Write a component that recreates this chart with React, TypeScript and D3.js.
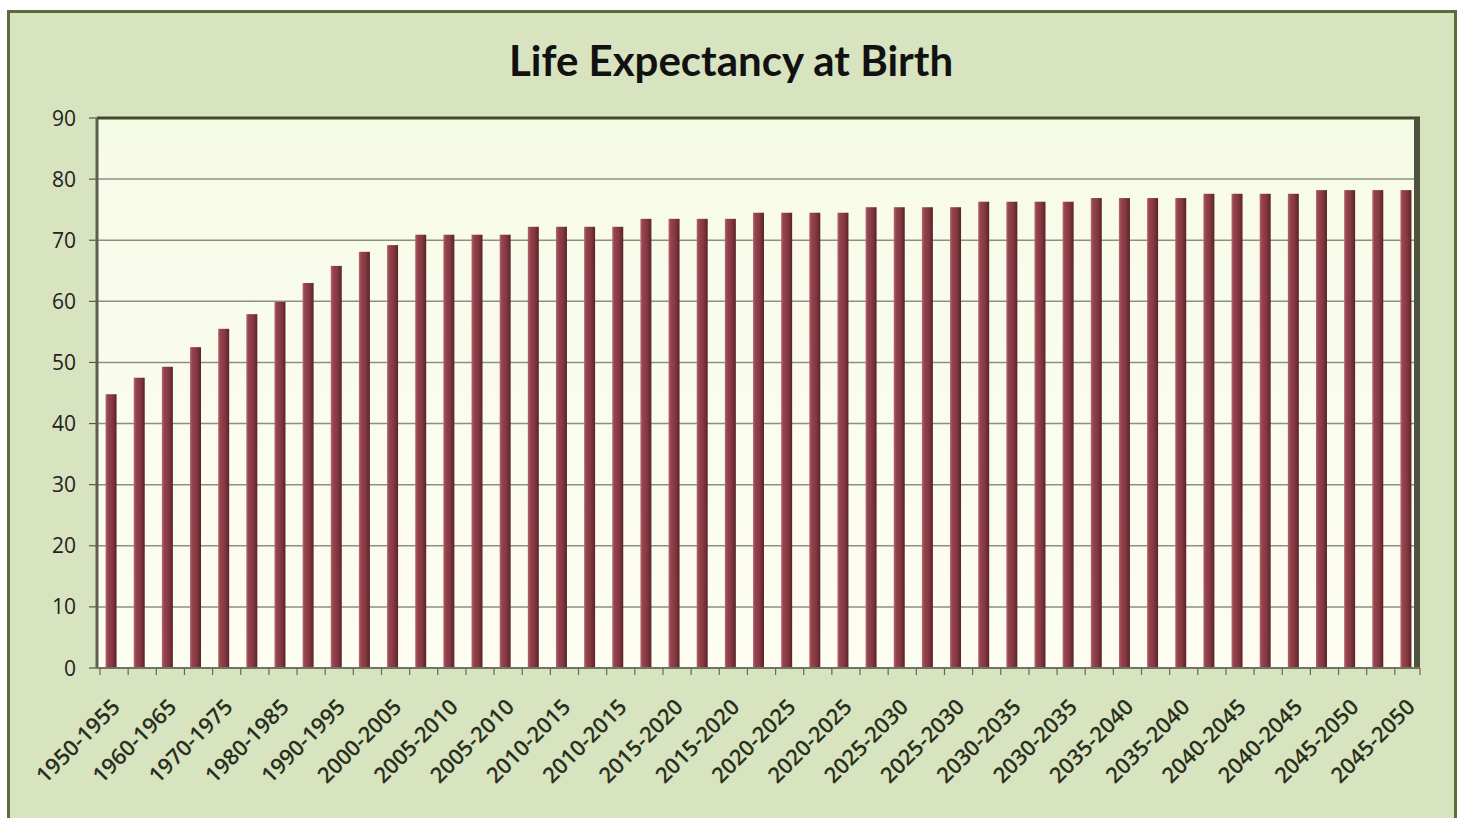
import React from "react";
import * as d3 from "d3";

const periods: string[] = [
  "1950-1955", "1955-1960", "1960-1965", "1965-1970", "1970-1975", "1975-1980",
  "1980-1985", "1985-1990", "1990-1995", "1995-2000", "2000-2005",
  "2005-2010", "2005-2010", "2005-2010", "2005-2010",
  "2010-2015", "2010-2015", "2010-2015", "2010-2015",
  "2015-2020", "2015-2020", "2015-2020", "2015-2020",
  "2020-2025", "2020-2025", "2020-2025", "2020-2025",
  "2025-2030", "2025-2030", "2025-2030", "2025-2030",
  "2030-2035", "2030-2035", "2030-2035", "2030-2035",
  "2035-2040", "2035-2040", "2035-2040", "2035-2040",
  "2040-2045", "2040-2045", "2040-2045", "2040-2045",
  "2045-2050", "2045-2050", "2045-2050", "2045-2050",
];

const lifeExpectancy: number[] = [
  44.8, 47.5, 49.3, 52.5, 55.5, 57.9, 59.9, 63.0, 65.8, 68.1, 69.2,
  70.9, 70.9, 70.9, 70.9,
  72.2, 72.2, 72.2, 72.2,
  73.5, 73.5, 73.5, 73.5,
  74.5, 74.5, 74.5, 74.5,
  75.4, 75.4, 75.4, 75.4,
  76.3, 76.3, 76.3, 76.3,
  76.9, 76.9, 76.9, 76.9,
  77.6, 77.6, 77.6, 77.6,
  78.2, 78.2, 78.2, 78.2,
];

const yTicks: number[] = [0, 10, 20, 30, 40, 50, 60, 70, 80, 90];
const title = "Life Expectancy at Birth";

const W = 1478;
const H = 818;
const plot = { left: 97, right: 1420, top: 118, bottom: 668 };

export default function App() {
  const keys = periods.map((_, i) => String(i));
  const x = d3
    .scaleBand<string>()
    .domain(keys)
    .range([plot.left, plot.right])
    .paddingInner(0)
    .paddingOuter(0);
  const y = d3.scaleLinear().domain([0, 90]).range([plot.bottom, plot.top]);
  const bw = 11;
  const font = "'Open Sans', 'DejaVu Sans', sans-serif";

  return (
    <svg
      width={W}
      height={H}
      style={{ position: "absolute", left: 0, top: 0, display: "block" }}
      fontFamily={font}
    >
      <defs>
        <linearGradient id="barGrad" x1="0" x2="1" y1="0" y2="0">
          <stop offset="0" stopColor="#b86a72" />
          <stop offset="0.2" stopColor="#96434c" />
          <stop offset="0.6" stopColor="#843841" />
          <stop offset="1" stopColor="#5a2328" />
        </linearGradient>
        <linearGradient id="plotGrad" x1="0" x2="0" y1="0" y2="1">
          <stop offset="0" stopColor="#f6fbe6" />
          <stop offset="1" stopColor="#fdfdf2" />
        </linearGradient>
      </defs>
      <rect x={0} y={0} width={W} height={H} fill="#ffffff" />
      <rect
        x={8.5}
        y={11.5}
        width={1447}
        height={H + 20}
        fill="#d8e3bf"
        stroke="#5e6c3a"
        strokeWidth={3}
      />
      <text
        x={731}
        y={76}
        textAnchor="middle"
        fontSize={42}
        fontWeight={700}
        fill="#111"
        fontFamily="Lato, 'Open Sans', sans-serif"
      >
        {title}
      </text>
      <rect
        x={plot.left}
        y={plot.top}
        width={plot.right - plot.left}
        height={plot.bottom - plot.top}
        fill="url(#plotGrad)"
      />
      {yTicks.map((t) => (
        <g key={"g" + t}>
          {t > 0 && t < 90 && (
            <line
              x1={plot.left}
              x2={plot.right - 6}
              y1={y(t)}
              y2={y(t)}
              stroke="#8c8f84"
              strokeWidth={1.5}
            />
          )}
          <line
            x1={plot.left - 8}
            x2={plot.left}
            y1={y(t)}
            y2={y(t)}
            stroke="#555"
            strokeWidth={1.2}
          />
          <text
            x={plot.left - 21}
            y={y(t)}
            dy="0.36em"
            textAnchor="end"
            fontSize={21}
            fill="#222"
          >
            {t}
          </text>
        </g>
      ))}
      {lifeExpectancy.map((v, i) => {
        const cx = (x(String(i)) as number) + x.bandwidth() / 2;
        return (
          <rect
            key={"b" + i}
            x={cx - bw / 2}
            y={y(v)}
            width={bw}
            height={plot.bottom - y(v)}
            fill="url(#barGrad)"
          />
        );
      })}
      <line
        x1={plot.left}
        x2={plot.right}
        y1={plot.top}
        y2={plot.top}
        stroke="#3f4a2a"
        strokeWidth={3}
      />
      <rect
        x={plot.right - 6}
        y={plot.top}
        width={6}
        height={plot.bottom - plot.top}
        fill="#4c5440"
      />
      <line
        x1={plot.left}
        x2={plot.left}
        y1={plot.top}
        y2={plot.bottom}
        stroke="#5a5f50"
        strokeWidth={3}
      />
      <line
        x1={plot.left}
        x2={plot.right}
        y1={plot.bottom}
        y2={plot.bottom}
        stroke="#6f7466"
        strokeWidth={2}
      />
      {keys.map((k) => (
        <line
          key={"t" + k}
          x1={(x(k) as number) + 3}
          x2={(x(k) as number) + 3}
          y1={plot.bottom}
          y2={plot.bottom + 7}
          stroke="#666"
          strokeWidth={1.2}
        />
      ))}
      <line
        x1={plot.right}
        x2={plot.right}
        y1={plot.bottom}
        y2={plot.bottom + 7}
        stroke="#666"
        strokeWidth={1.2}
      />
      {periods.map((p, i) => {
        if (i % 2 !== 0) return null;
        const cx = (x(String(i)) as number) + x.bandwidth() / 2;
        const tx = cx + 5;
        const ty = plot.bottom + 35;
        return (
          <text
            key={"l" + i}
            transform={`translate(${tx},${ty}) rotate(-45)`}
            textAnchor="end"
            dy="0.35em"
            fontSize={22}
            fontWeight={600}
            fill="#2a3020"
          >
            {p}
          </text>
        );
      })}
    </svg>
  );
}
